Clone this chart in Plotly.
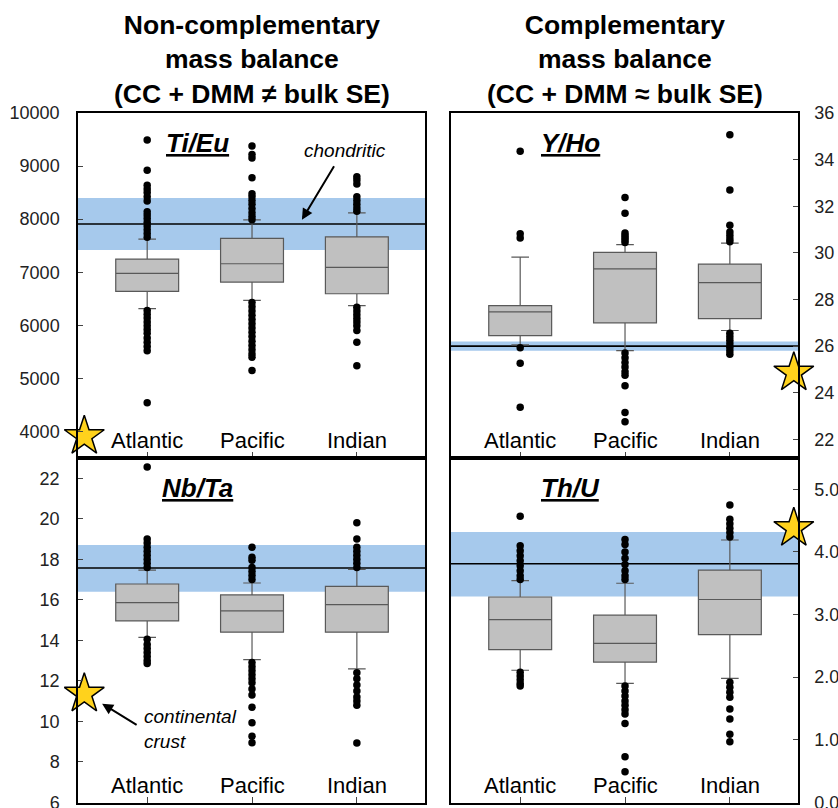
import plotly.graph_objects as go

# ---------------- data ----------------
oceans = ["Atlantic", "Pacific", "Indian"]
xpos = [0, 1, 2]

# Ti/Eu
tieu_q1 = [6640, 6815, 6595]
tieu_med = [6977, 7160, 7090]
tieu_q3 = [7248, 7636, 7668]
tieu_lo = [6313, 6470, 6370]
tieu_hi = [7624, 7987, 8119]
tieu_out_atl = [9490, 8920, 8640, 8570, 8500, 8420, 8340, 8140, 8080, 8010, 7940, 7870, 7800, 7730, 7660,
                6280, 6210, 6140, 6060, 5990, 5920, 5850, 5760, 5680, 5600, 5520, 4540]
tieu_out_pac = [9380, 9220, 9150, 8780, 8480, 8420, 8350, 8280, 8200, 8120, 8050, 7990,
                6430, 6350, 6270, 6190, 6110, 6030, 5950, 5870, 5790, 5700, 5620, 5540, 5460, 5400, 5150]
tieu_out_ind = [8800, 8740, 8660, 8420, 8350, 8280, 8210, 8150,
                6340, 6270, 6200, 6130, 6060, 5990, 5900, 5680, 5240]
tieu_chond, tieu_band = 7910, [7420, 8400]
tieu_cc = 3910

# Y/Ho
yho_q1 = [26.45, 27.0, 27.18]
yho_med = [27.47, 29.31, 28.72]
yho_q3 = [27.74, 30.02, 29.52]
yho_lo = [26.05, 25.81, 26.67]
yho_hi = [29.82, 30.35, 30.42]
yho_out_atl = [34.36, 30.82, 30.64, 25.93, 25.26, 23.38]
yho_out_pac = [32.37, 31.7, 30.85, 30.75, 30.65, 30.55, 30.45,
               25.7, 25.5, 25.3, 25.1, 24.9, 24.75, 24.3, 23.15, 22.75]
yho_out_ind = [35.07, 32.7, 31.18, 30.9, 30.75, 30.6, 30.48,
               26.55, 26.4, 26.25, 26.1, 25.95, 25.8, 25.65]
yho_chond, yho_band = 26.0, [25.8, 26.2]
yho_cc = 24.86

# Nb/Ta
nbta_q1 = [14.96, 14.4, 14.4]
nbta_med = [15.86, 15.45, 15.76]
nbta_q3 = [16.78, 16.24, 16.66]
nbta_lo = [14.15, 13.05, 12.59]
nbta_hi = [17.47, 16.83, 17.5]
nbta_out_atl = [22.55, 19.0, 18.8, 18.6, 18.4, 18.2, 18.0, 17.8, 17.6,
                14.05, 13.8, 13.6, 13.4, 13.2, 13.0, 12.85]
nbta_out_pac = [18.6, 18.1, 17.95, 17.6, 17.4, 17.2, 17.0,
                12.9, 12.7, 12.5, 12.3, 12.1, 11.9, 11.6, 11.3, 10.7, 9.93, 9.27, 8.95]
nbta_out_ind = [19.8, 19.0, 18.6, 18.4, 18.2, 18.0, 17.8, 17.6,
                12.4, 12.1, 11.8, 11.5, 11.2, 11.0, 10.8, 8.93]
nbta_chond, nbta_band = 17.57, [16.4, 18.7]
nbta_cc = 11.36

# Th/U
thu_q1 = [2.44, 2.24, 2.68]
thu_med = [2.92, 2.54, 3.24]
thu_q3 = [3.28, 2.99, 3.71]
thu_lo = [2.11, 1.9, 1.98]
thu_hi = [3.54, 3.5, 4.19]
thu_out_atl = [4.57, 4.1, 4.02, 3.94, 3.86, 3.78, 3.7, 3.62, 3.56,
               2.08, 2.02, 1.96, 1.9, 1.86]
thu_out_pac = [4.2, 4.12, 4.0, 3.9, 3.8, 3.7, 3.62, 3.56,
               1.86, 1.78, 1.7, 1.62, 1.55, 1.48, 1.41, 1.26, 0.73, 0.49]
thu_out_ind = [4.75, 4.52, 4.45, 4.38, 4.31, 4.24,
               1.92, 1.84, 1.76, 1.68, 1.49, 1.33, 1.09, 0.97]
thu_chond, thu_band = 3.81, [3.29, 4.32]
thu_cc = 4.38

# ---------------- figure ----------------
FONT = "Liberation Sans, Arial, sans-serif"
BAND = "#a6c9ec"
STAR = "#ffd21c"

panels = [
    dict(name="Ti/Eu", xa="x", ya="y", q1=tieu_q1, med=tieu_med, q3=tieu_q3, lo=tieu_lo, hi=tieu_hi,
         outs=[tieu_out_atl, tieu_out_pac, tieu_out_ind], chond=tieu_chond, band=tieu_band,
         cc=tieu_cc, ccx=-0.6),
    dict(name="Y/Ho", xa="x2", ya="y2", q1=yho_q1, med=yho_med, q3=yho_q3, lo=yho_lo, hi=yho_hi,
         outs=[yho_out_atl, yho_out_pac, yho_out_ind], chond=yho_chond, band=yho_band,
         cc=yho_cc, ccx=2.61),
    dict(name="Nb/Ta", xa="x3", ya="y3", q1=nbta_q1, med=nbta_med, q3=nbta_q3, lo=nbta_lo, hi=nbta_hi,
         outs=[nbta_out_atl, nbta_out_pac, nbta_out_ind], chond=nbta_chond, band=nbta_band,
         cc=nbta_cc, ccx=-0.6),
    dict(name="Th/U", xa="x4", ya="y4", q1=thu_q1, med=thu_med, q3=thu_q3, lo=thu_lo, hi=thu_hi,
         outs=[thu_out_atl, thu_out_pac, thu_out_ind], chond=thu_chond, band=thu_band,
         cc=thu_cc, ccx=2.61),
]

fig = go.Figure()
shapes = []
annotations = []

for p in panels:
    ya = p["ya"]
    # band and chondritic line
    shapes.append(dict(type="rect", xref=f"{p['xa']} domain", yref=ya, x0=0, x1=1,
                       y0=p["band"][0], y1=p["band"][1], fillcolor=BAND, line_width=0, layer="below"))
    shapes.append(dict(type="line", xref=f"{p['xa']} domain", yref=ya, x0=0, x1=1,
                       y0=p["chond"], y1=p["chond"], line=dict(color="black", width=1.6), layer="below"))
    fig.add_trace(go.Box(
        x=xpos, q1=p["q1"], median=p["med"], q3=p["q3"],
        lowerfence=p["lo"], upperfence=p["hi"],
        width=0.6, whiskerwidth=0.28,
        fillcolor="#c0c0c0", line=dict(color="#595959", width=1.2),
        boxpoints=False, xaxis=p["xa"], yaxis=ya, showlegend=False, hoverinfo="skip"))
    for i, vals in enumerate(p["outs"]):
        fig.add_trace(go.Scatter(
            x=[xpos[i]] * len(vals), y=vals, mode="markers",
            marker=dict(color="black", size=7.5),
            xaxis=p["xa"], yaxis=ya, showlegend=False, hoverinfo="skip"))
    fig.add_trace(go.Scatter(
        x=[p["ccx"]], y=[p["cc"]], mode="markers", cliponaxis=False,
        marker=dict(symbol="star", size=30, color=STAR, line=dict(color="black", width=1.5)),
        xaxis=p["xa"], yaxis=ya, showlegend=False, hoverinfo="skip"))
    annotations.append(dict(
        text=f"<b><i><u>{p['name']}</u></i></b>", xref=p["xa"], yref=f"{ya} domain",
        x=0.48, y=0.912, xanchor="center", yanchor="middle", showarrow=False,
        font=dict(family=FONT, size=26, color="black")))
    # category labels inside the panel
    for i, name in enumerate(oceans):
        annotations.append(dict(
            text=name, xref=p["xa"], yref=f"{ya} domain", x=xpos[i], y=0.052,
            xanchor="center", yanchor="middle", showarrow=False,
            font=dict(family=FONT, size=22, color="black")))

# column titles
annotations.append(dict(text="<b>Non-complementary<br>mass balance<br>(CC + DMM ≠ bulk SE)</b>",
                        xref="x domain", yref="paper", x=0.5, y=1.077, xanchor="center",
                        yanchor="middle", showarrow=False,
                        font=dict(family=FONT, size=26.5, color="black")))
annotations.append(dict(text="<b>Complementary<br>mass balance<br>(CC + DMM ≈ bulk SE)</b>",
                        xref="x2 domain", yref="paper", x=0.5, y=1.077, xanchor="center",
                        yanchor="middle", showarrow=False,
                        font=dict(family=FONT, size=26.5, color="black")))

# chondritic annotation
annotations.append(dict(text="<i>chondritic</i>", xref="x", yref="y", x=1.886, y=9285,
                        xanchor="center", yanchor="middle", showarrow=False,
                        font=dict(family=FONT, size=19, color="black")))
annotations.append(dict(text="", xref="x", yref="y", x=1.476, y=7990, ax=33, ay=-55,
                        showarrow=True, arrowhead=2, arrowsize=1.1, arrowwidth=2, arrowcolor="black"))
# continental crust annotation
annotations.append(dict(text="<i>continental<br>crust</i>", xref="x3", yref="y3", x=-0.05, y=9.64,
                        xanchor="left", yanchor="middle", align="left", showarrow=False,
                        font=dict(family=FONT, size=19, color="black")))
annotations.append(dict(text="", xref="x3", yref="y3", x=-0.43, y=10.87, ax=36, ay=22,
                        showarrow=True, arrowhead=2, arrowsize=1.1, arrowwidth=2, arrowcolor="black"))

xcommon = dict(range=[-0.66, 2.65], tickvals=xpos, showticklabels=False, showline=True, mirror=True,
               linecolor="black", linewidth=1.5, ticks="inside", ticklen=6, tickcolor="#444",
               showgrid=False, zeroline=False, fixedrange=True, automargin=False)
ycommon = dict(showline=True, mirror=True, linecolor="black", linewidth=1.5, ticks="inside",
               ticklen=5, tickcolor="#444", showgrid=False, zeroline=False, automargin=False,
               tickfont=dict(family=FONT, size=18, color="#222"), ticklabeloverflow="allow")

L = [0, 347 / 720]
R = [373 / 720, 1]
T = [0.5, 1]
B = [0, 0.5]

fig.update_layout(
    width=838, height=808,
    margin=dict(l=78, r=40, t=113, b=5, autoexpand=False),
    paper_bgcolor="white", plot_bgcolor="white",
    xaxis=dict(xcommon, domain=L, anchor="y"),
    xaxis2=dict(xcommon, domain=R, anchor="y2"),
    xaxis3=dict(xcommon, domain=L, anchor="y3"),
    xaxis4=dict(xcommon, domain=R, anchor="y4"),
    yaxis=dict(ycommon, domain=T, anchor="x", range=[3500, 10000], dtick=1000, tickformat="d",
               side="left", ticklabelstandoff=13),
    yaxis2=dict(ycommon, domain=T, anchor="x2", range=[21.2, 36], dtick=2, side="right",
                ticklabelstandoff=11),
    yaxis3=dict(ycommon, domain=B, anchor="x3", range=[5.97, 23], tick0=0, dtick=2, side="left",
                ticklabelstandoff=13),
    yaxis4=dict(ycommon, domain=B, anchor="x4", range=[-0.01, 5.5], tick0=0, dtick=1, tickformat=".1f",
                side="right", ticklabelstandoff=11),
    shapes=shapes, annotations=annotations,
    font=dict(family=FONT),
)

fig.write_html("out.html")
